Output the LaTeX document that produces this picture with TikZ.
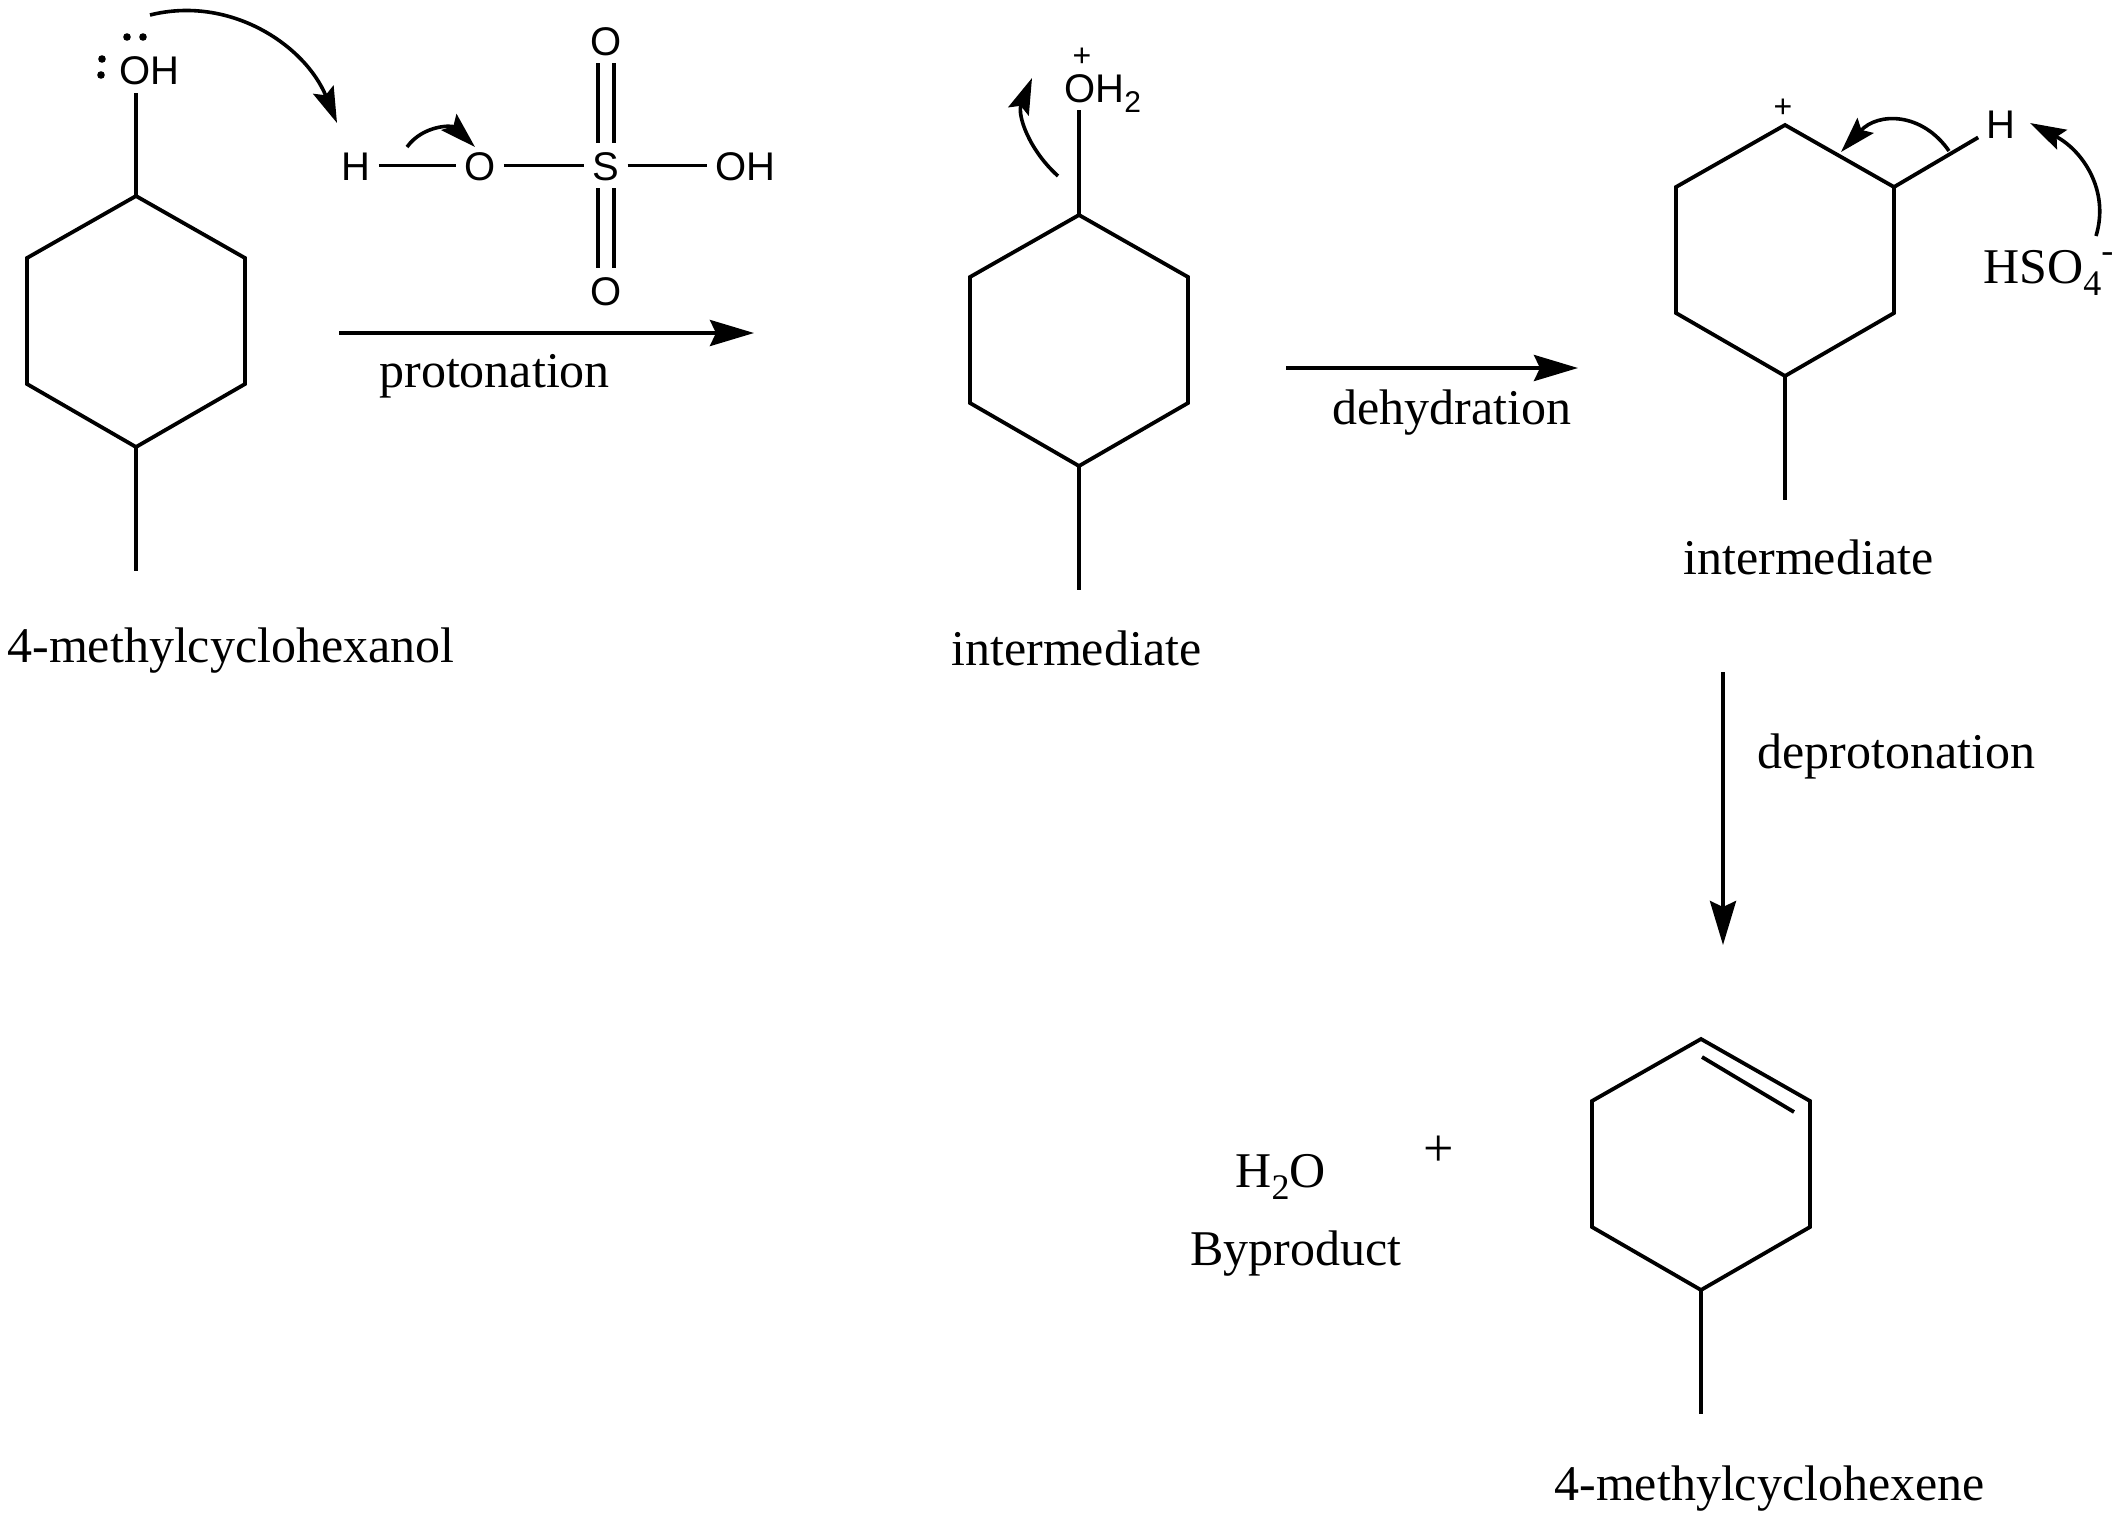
\documentclass[tikz,border=0pt]{standalone}
\usepackage{fontspec}
\setmainfont{Liberation Serif}
\newfontfamily\atomfont{Liberation Sans}
\usetikzlibrary{arrows.meta}

\newcommand{\txtsub}[1]{\raisebox{-.24em}{\fontsize{18}{18}\selectfont #1}}
\newcommand{\txtsup}[1]{\raisebox{.42em}{\fontsize{18}{18}\selectfont #1}}
\newcommand{\atmsub}[1]{\raisebox{-.26em}{\fontsize{15}{15}\selectfont #1}}

\newcommand{\hexring}[3]{
	\pgfmathsetmacro{\HRxl}{#2-109}
	\pgfmathsetmacro{\HRxr}{#2+109}
	\pgfmathsetmacro{\HRya}{#3+62}
	\pgfmathsetmacro{\HRyb}{#3+188}
	\pgfmathsetmacro{\HRyc}{#3+251}
	\pgfmathsetmacro{\HRyd}{#3+375}
	\coordinate (#1t) at (#2, #3);
	\coordinate (#1ur) at (\HRxr, \HRya);
	\coordinate (#1lr) at (\HRxr, \HRyb);
	\coordinate (#1b) at (#2, \HRyc);
	\coordinate (#1ll) at (\HRxl, \HRyb);
	\coordinate (#1ul) at (\HRxl, \HRya);
	\coordinate (#1m) at (#2, \HRyd);
	\draw[bond] (#1t) -- (#1ur) -- (#1lr) -- (#1b) -- (#1ll) -- (#1ul) -- cycle;
	\draw[bond] (#1b) -- (#1m);
}

\tikzset{
	bond/.style={line width=1.9pt},
	atom/.style={font=\atomfont\fontsize{20}{24}\selectfont, inner sep=4pt, text height=14.5pt, text depth=0pt},
	charge/.style={font=\atomfont\fontsize{16}{16}\selectfont, inner sep=0pt},
	txt/.style={font=\fontsize{25}{30}\selectfont, inner sep=0pt, anchor=base west},
	mainarr/.style={line width=2pt, -{Stealth[length=22pt,width=13pt,inset=3pt]}},
	curvearr/.style={line width=1.8pt, -{Stealth[length=18pt,width=11pt,inset=3pt]}},
	lonepair/.style={radius=1.9pt}
}

\begin{document}
\begin{tikzpicture}[x=0.5pt,y=-0.5pt]
\useasboundingbox (0,0) rectangle (2122,1522);

\hexring{ra}{136}{196}
\hexring{rb}{1079}{215}
\hexring{rc}{1785}{125}
\hexring{rd}{1701}{1039}

% alcohol
\node[atom] (ohA) at (149,70) {OH};
\draw[bond] (rat) -- (rat |- ohA.south);
\fill[lonepair] (127,37) circle;
\fill[lonepair] (143,37) circle;
\fill[lonepair] (102,59) circle;
\fill[lonepair] (101,75) circle;

% acid
\node[atom] (acH) at (356,165.5) {H};
\node[atom] (acO) at (480,165.5) {O};
\node[atom] (acS) at (606,165.5) {S};
\node[atom] (acOH) at (745,165.5) {OH};
\node[atom] (acOa) at (606,40.5) {O};
\node[atom] (acOb) at (606,290.5) {O};
\draw[bond] (acH) -- (acO);
\draw[bond] (acO) -- (acS);
\draw[bond] (acS) -- (acOH);
\draw[bond] ([xshift=-4pt]acS.north) -- ([xshift=-4pt]acOa.south);
\draw[bond] ([xshift=4pt]acS.north) -- ([xshift=4pt]acOa.south);
\draw[bond] ([xshift=-4pt]acS.south) -- ([xshift=-4pt]acOb.north);
\draw[bond] ([xshift=4pt]acS.south) -- ([xshift=4pt]acOb.north);

% second and third structures
\node[atom,anchor=west] (ohB) at (1056,87.5) {OH\atmsub{2}};
\draw[bond] (rbt) -- (rbt |- ohB.south);
\node[charge] (plB) at (1082,57) {+};
\node[charge] (plC) at (1783,108) {+};
\node[atom] (hC) at (2001,124) {H};
\draw[bond] (rcur) -- (hC);
\node[txt] (hso) at (1983,283) {HSO\txtsub{4}\txtsup{-}};

% last structure
\coordinate (dbA) at (1702,1057);
\coordinate (dbB) at (1794,1112);
\draw[bond] (dbA) -- (dbB);
\node[txt] (water) at (1235,1187) {H\txtsub{2}O};
\node[txt] (byprod) at (1190,1265) {Byproduct};
\node[txt,anchor=center,font=\fontsize{27}{30}\selectfont] (plD) at (1439,1151) {+};

% labels
\node[txt] (nameA) at (7,662) {4-methylcyclohexanol};
\node[txt] (nameB) at (951,665) {intermediate};
\node[txt] (nameC) at (1683,574) {intermediate};
\node[txt] (nameD) at (1554,1500) {4-methylcyclohexene};
\node[txt] (stepA) at (379,387) {protonation};
\node[txt] (stepB) at (1332,424) {dehydration};
\node[txt] (stepC) at (1757,768) {deprotonation};

% reaction arrows
\coordinate (protS) at (339,333);
\coordinate (protE) at (754,333);
\coordinate (dehyS) at (1286,368);
\coordinate (dehyE) at (1578,368);
\coordinate (depS) at (1723,672);
\coordinate (depE) at (1723,945);
\draw[mainarr] (protS) -- (protE);
\draw[mainarr] (dehyS) -- (dehyE);
\draw[mainarr] (depS) -- (depE);

% electron pushing
\coordinate (cvAs) at (150,15);
\coordinate (cvAe) at (337,123);
\coordinate (cvBs) at (407,147);
\coordinate (cvBe) at (475,147);
\coordinate (cvCs) at (1058,176);
\coordinate (cvCe) at (1032,78);
\coordinate (cvDs) at (1949,151);
\coordinate (cvDe) at (1841,152);
\coordinate (cvEs) at (2096,236);
\coordinate (cvEe) at (2030,123);
\draw[curvearr] (cvAs) .. controls (230,-5) and (305,45) .. (cvAe);
\draw[curvearr] (cvBs) .. controls (423,125) and (452,125) .. (cvBe);
\draw[curvearr] (cvCs) .. controls (1029,150) and (1017,115) .. (cvCe);
\draw[curvearr] (cvDs) .. controls (1922,112) and (1878,112) .. (cvDe);
\draw[curvearr] (cvEs) .. controls (2110,190) and (2082,150) .. (cvEe);
\end{tikzpicture}
\end{document}
